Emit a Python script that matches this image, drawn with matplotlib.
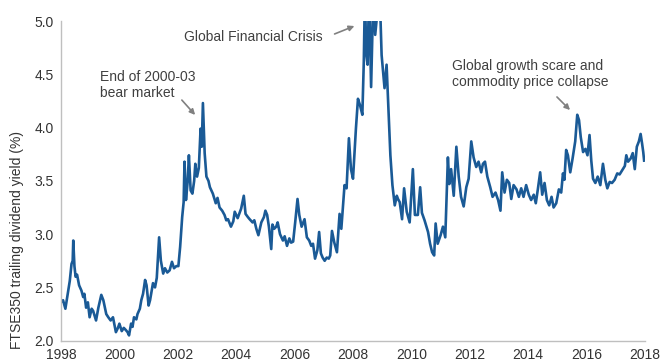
import matplotlib
matplotlib.use("Agg")
import matplotlib.pyplot as plt

# decimal years and FTSE350 trailing dividend yield (%)
years = [
    1998.00, 1998.07, 1998.12, 1998.15, 1998.22, 1998.30, 1998.36, 1998.40, 1998.42, 1998.46,
    1998.50, 1998.55, 1998.62, 1998.70, 1998.76, 1998.80, 1998.86, 1998.92, 1998.98, 1999.05,
    1999.10, 1999.20, 1999.28, 1999.34, 1999.38, 1999.45, 1999.55, 1999.62, 1999.70, 1999.78,
    1999.88, 1999.95, 2000.00, 2000.08, 2000.15, 2000.22, 2000.28, 2000.33, 2000.40, 2000.45,
    2000.50, 2000.58, 2000.62, 2000.70, 2000.75, 2000.81, 2000.88, 2000.93, 2001.00, 2001.05,
    2001.15, 2001.22, 2001.28, 2001.36, 2001.42, 2001.50, 2001.56, 2001.64, 2001.72, 2001.80,
    2001.87, 2001.95, 2002.02, 2002.08, 2002.15, 2002.20, 2002.23, 2002.28, 2002.34, 2002.38,
    2002.44, 2002.50, 2002.56, 2002.60, 2002.66, 2002.72, 2002.78, 2002.82, 2002.86, 2002.92,
    2002.98, 2003.05, 2003.10, 2003.20, 2003.30, 2003.36, 2003.43, 2003.52, 2003.60, 2003.66,
    2003.72, 2003.82, 2003.90, 2003.95, 2004.05, 2004.17, 2004.26, 2004.32, 2004.40, 2004.46,
    2004.56, 2004.62, 2004.69, 2004.76, 2004.86, 2004.95, 2005.00, 2005.06, 2005.12, 2005.20,
    2005.24, 2005.30, 2005.37, 2005.42, 2005.50, 2005.60, 2005.66, 2005.74, 2005.82, 2005.88,
    2005.95, 2006.02, 2006.10, 2006.16, 2006.24, 2006.34, 2006.42, 2006.50, 2006.57, 2006.63,
    2006.70, 2006.78, 2006.84, 2006.90, 2006.96, 2007.03, 2007.10, 2007.17, 2007.22, 2007.28,
    2007.36, 2007.45, 2007.54, 2007.60, 2007.71, 2007.78, 2007.86, 2007.93, 2008.00, 2008.10,
    2008.17, 2008.24, 2008.32, 2008.37, 2008.41, 2008.45, 2008.50, 2008.55, 2008.62, 2008.70,
    2008.76, 2008.84, 2008.91, 2008.98, 2009.08, 2009.15, 2009.22, 2009.28, 2009.35, 2009.43,
    2009.50, 2009.54, 2009.60, 2009.68, 2009.75, 2009.84, 2009.94, 2010.05, 2010.12, 2010.22,
    2010.30, 2010.36, 2010.45, 2010.57, 2010.64, 2010.71, 2010.78, 2010.83, 2010.90, 2011.00,
    2011.08, 2011.16, 2011.25, 2011.30, 2011.36, 2011.45, 2011.54, 2011.62, 2011.70, 2011.79,
    2011.88, 2011.96, 2012.05, 2012.13, 2012.22, 2012.30, 2012.39, 2012.45, 2012.52, 2012.60,
    2012.70, 2012.78, 2012.88, 2012.97, 2013.05, 2013.11, 2013.19, 2013.27, 2013.35, 2013.42,
    2013.50, 2013.60, 2013.68, 2013.76, 2013.84, 2013.93, 2014.02, 2014.10, 2014.19, 2014.26,
    2014.33, 2014.41, 2014.48, 2014.56, 2014.64, 2014.72, 2014.80, 2014.87, 2014.96, 2015.05,
    2015.13, 2015.19, 2015.24, 2015.30, 2015.36, 2015.44, 2015.52, 2015.61, 2015.68, 2015.74,
    2015.80, 2015.88, 2015.96, 2016.03, 2016.10, 2016.16, 2016.22, 2016.30, 2016.38, 2016.47,
    2016.56, 2016.64, 2016.71, 2016.79, 2016.87, 2016.96, 2017.05, 2017.13, 2017.22, 2017.31,
    2017.36, 2017.42, 2017.51, 2017.58, 2017.65, 2017.72, 2017.79, 2017.85, 2017.90, 2017.94,
    2017.97,
]
yields = [
    2.36, 2.38, 2.33, 2.30, 2.42, 2.56, 2.72, 2.75, 2.94, 2.70,
    2.60, 2.62, 2.52, 2.47, 2.41, 2.44, 2.31, 2.36, 2.22, 2.30,
    2.28, 2.19, 2.31, 2.38, 2.43, 2.38, 2.25, 2.22, 2.19, 2.22,
    2.08, 2.12, 2.16, 2.09, 2.12, 2.10, 2.08, 2.05, 2.16, 2.13,
    2.22, 2.20, 2.25, 2.30, 2.38, 2.44, 2.57, 2.52, 2.33, 2.38,
    2.54, 2.50, 2.59, 2.97, 2.75, 2.63, 2.68, 2.64, 2.66, 2.74,
    2.68, 2.70, 2.70, 2.88, 3.16, 3.30, 3.68, 3.32, 3.50, 3.74,
    3.41, 3.38, 3.50, 3.66, 3.54, 3.62, 3.99, 3.82, 4.23, 3.76,
    3.54, 3.50, 3.44, 3.38, 3.29, 3.34, 3.25, 3.22, 3.18, 3.13,
    3.14, 3.07, 3.12, 3.21, 3.15, 3.24, 3.36, 3.19, 3.16, 3.14,
    3.11, 3.13, 3.05, 2.99, 3.11, 3.16, 3.22, 3.18, 3.07, 2.86,
    3.09, 3.05, 3.07, 3.11, 3.00, 2.94, 2.98, 2.89, 2.96, 2.92,
    2.93, 3.11, 3.33, 3.18, 3.07, 3.14, 2.97, 2.94, 2.89, 2.91,
    2.77, 2.85, 3.02, 2.82, 2.78, 2.75, 2.78, 2.77, 2.80, 3.03,
    2.92, 2.83, 3.19, 3.05, 3.46, 3.43, 3.90, 3.61, 3.52, 3.99,
    4.27, 4.21, 4.12, 4.62, 5.30, 4.70, 4.59, 5.30, 4.38, 5.30,
    4.87, 5.10, 5.30, 4.68, 4.37, 4.59, 4.12, 3.74, 3.46, 3.27,
    3.36, 3.33, 3.30, 3.14, 3.43, 3.21, 3.11, 3.61, 3.18, 3.18,
    3.44, 3.20, 3.13, 3.02, 2.91, 2.83, 2.80, 3.10, 2.91, 2.99,
    3.07, 2.97, 3.72, 3.47, 3.61, 3.36, 3.82, 3.54, 3.35, 3.26,
    3.44, 3.52, 3.87, 3.72, 3.63, 3.68, 3.58, 3.66, 3.68, 3.54,
    3.44, 3.35, 3.39, 3.32, 3.22, 3.58, 3.39, 3.51, 3.48, 3.33,
    3.46, 3.42, 3.35, 3.43, 3.35, 3.46, 3.37, 3.32, 3.37, 3.29,
    3.42, 3.58, 3.37, 3.48, 3.32, 3.27, 3.35, 3.25, 3.29, 3.42,
    3.39, 3.57, 3.51, 3.79, 3.74, 3.58, 3.71, 3.87, 4.12, 4.07,
    3.91, 3.77, 3.80, 3.74, 3.93, 3.69, 3.52, 3.48, 3.54, 3.46,
    3.66, 3.51, 3.43, 3.49, 3.48, 3.51, 3.57, 3.56, 3.60, 3.64,
    3.74, 3.68, 3.71, 3.76, 3.61, 3.82, 3.87, 3.94, 3.85, 3.77,
    3.69,
]
x_ticks = [1998, 2000, 2002, 2004, 2006, 2008, 2010, 2012, 2014, 2016, 2018]
y_ticks = [2.0, 2.5, 3.0, 3.5, 4.0, 4.5, 5.0]
y_label = "FTSE350 trailing dividend yield (%)"

plt.rcParams['font.family'] = ['Liberation Sans', 'DejaVu Sans']
W, H = 660, 363
fig = plt.figure(figsize=(W / 100, H / 100), dpi=100)
ax = fig.add_axes([61 / W, 1 - 340.7 / H, (645 - 61) / W, (340.7 - 21) / H])

ax.plot(years, yields, color='#1a5a96', lw=1.9, solid_joinstyle='round')
ax.set_xlim(1998, 2018)
ax.set_ylim(2.0, 5.0)
ax.set_xticks(x_ticks)
ax.set_yticks(y_ticks)
ax.set_xticklabels([str(t) for t in x_ticks])
ax.set_yticklabels([f"{t:.1f}" for t in y_ticks])
ax.tick_params(length=0, labelsize=10, colors='#333333', pad=5)
for s in ['top', 'right']:
    ax.spines[s].set_visible(False)
for s in ['left', 'bottom']:
    ax.spines[s].set_color('#bfbfbf')
    ax.spines[s].set_linewidth(1.0)

fig.text(17 / W, 1 - 240 / H, y_label, rotation=90, ha='center', va='center',
         fontsize=10, color='#333333')

tc = '#404040'
ac = '#808080'
def px(x, y):
    return (x / W, 1 - y / H)

fig.text(*px(100, 85), "End of 2000-03\nbear market", ha='left', va='center',
         fontsize=10, color=tc, linespacing=1.1)
ax.annotate('', xy=px(197, 117), xycoords='figure fraction',
            xytext=px(180, 98), textcoords='figure fraction',
            arrowprops=dict(arrowstyle='-|>', color=ac, lw=1.2, mutation_scale=8))

fig.text(*px(184, 37), "Global Financial Crisis", ha='left', va='center',
         fontsize=10, color=tc)
ax.annotate('', xy=px(357, 25), xycoords='figure fraction',
            xytext=px(332, 35), textcoords='figure fraction',
            arrowprops=dict(arrowstyle='-|>', color=ac, lw=1.2, mutation_scale=8))

fig.text(*px(452, 74), "Global growth scare and\ncommodity price collapse", ha='left',
         va='center', fontsize=10, color=tc, linespacing=1.1)
ax.annotate('', xy=px(572, 112), xycoords='figure fraction',
            xytext=px(555, 95), textcoords='figure fraction',
            arrowprops=dict(arrowstyle='-|>', color=ac, lw=1.2, mutation_scale=8))

fig.savefig('out.png', dpi=100)
